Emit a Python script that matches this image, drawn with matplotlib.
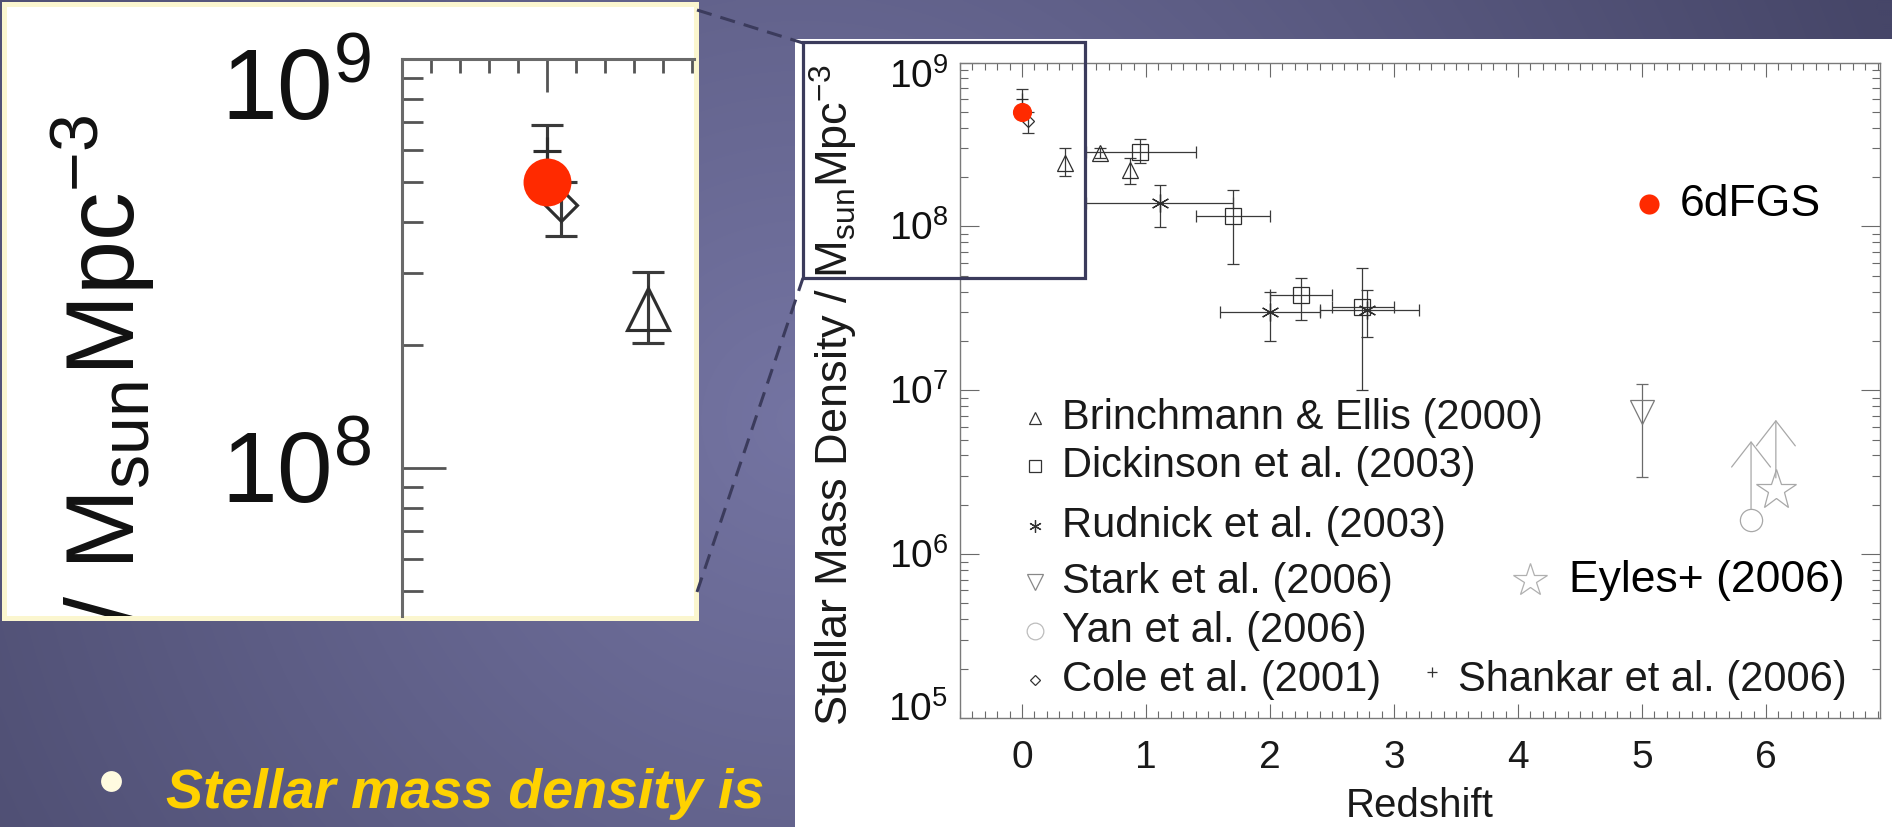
import numpy as np
import matplotlib
matplotlib.use("Agg")
import matplotlib.pyplot as plt
from matplotlib.patches import Rectangle
from matplotlib.lines import Line2D
from matplotlib.ticker import LogLocator, MultipleLocator, NullFormatter
from matplotlib.transforms import Bbox, TransformedBbox, ScaledTranslation, blended_transform_factory
from matplotlib import font_manager

plt.rcParams['font.family'] = ['Liberation Sans', 'DejaVu Sans']
plt.rcParams['mathtext.fontset'] = 'custom'
plt.rcParams['mathtext.rm'] = 'Liberation Sans'
plt.rcParams['mathtext.it'] = 'Liberation Sans:italic'
plt.rcParams['mathtext.bf'] = 'Liberation Sans:bold'

# ---------------- data: stellar mass density vs redshift ----------------
brinch_z = [0.35, 0.63, 0.87]
brinch_rho = [2.45e8, 2.82e8, 2.21e8]
brinch_lo = [2.02e8, 2.63e8, 1.82e8]
brinch_hi = [3.02e8, 3.02e8, 2.60e8]

dick_z = [0.95, 1.70, 2.25, 2.74]
dick_zlo = [0.52, 1.4, 2.0, 2.5]
dick_zhi = [1.4, 2.0, 2.5, 3.0]
dick_rho = [2.86e8, 1.15e8, 3.8e7, 3.24e7]
dick_lo = [2.45e8, 5.9e7, 2.68e7, 1.0e7]
dick_hi = [3.41e8, 1.67e8, 4.86e7, 5.55e7]

rud_z = [1.11, 2.0, 2.78]
rud_zlo = [0.52, 1.6, 2.4]
rud_zhi = [1.7, 2.4, 3.2]
rud_rho = [1.38e8, 3.0e7, 3.1e7]
rud_lo = [9.9e7, 2.0e7, 2.1e7]
rud_hi = [1.8e8, 4.0e7, 4.1e7]

stark_z = [5.0]
stark_rho = [7.4e6]
stark_lo = [2.95e6]
stark_hi = [1.09e7]

yan_z = [5.88]
yan_rho = [1.62e6]
yan_limit_top = [4.9e6]

eyles_z = [6.08]
eyles_rho = [2.45e6]
eyles_limit_top = [6.6e6]

cole_z = [0.05]
cole_rho = [4.4e8]
cole_lo = [3.7e8]
cole_hi = [5.0e8]

shankar_z = [0.0]
shankar_rho = [5.95e8]
shankar_lo = [5.1e8]
shankar_hi = [6.9e8]

sixdf_z = [0.0]
sixdf_rho = [5.0e8]

legend_labels = ["Brinchmann & Ellis (2000)", "Dickinson et al. (2003)",
                 "Rudnick et al. (2003)", "Stark et al. (2006)",
                 "Yan et al. (2006)", "Cole et al. (2001)"]
shankar_label = "Shankar et al. (2006)"
eyles_label = "Eyles+ (2006)"
sixdf_label = "6dFGS"
ylabel_text = r"Stellar Mass Density / M$_{\mathrm{sun}}$Mpc$^{-3}$"
zoom_ylabel_text = r"/ M$_{\mathrm{sun}}$Mpc$^{-3}$"
xlabel_text = "Redshift"
bullet_text = "Stellar mass density is"

main_decades = [5, 6, 7, 8, 9]
zoom_decades = [8, 9]

# ---------------- figure ----------------
W, H = 1892, 827
fig = plt.figure(figsize=(W / 100, H / 100), dpi=100)


def fx(px):
    return px / W


def fy(py):
    return 1 - py / H


# slide background: soft radial purple gradient
bg = fig.add_axes([0, 0, 1, 1], zorder=-10)
yy, xx = np.mgrid[0:H:2, 0:W:2]
dist = np.hypot(xx - 800, yy - 420)
f = np.clip(1 - dist / 1150, 0, 1)[..., None]
light = np.array([0x74, 0x74, 0xa2]) / 255
dark = np.array([0x46, 0x46, 0x68]) / 255
bg.imshow(dark + (light - dark) * f, extent=[0, W, H, 0], aspect='auto',
          interpolation='bilinear')
bg.set_xlim(0, W)
bg.set_ylim(H, 0)
bg.axis('off')

# white panels
fig.add_artist(Rectangle((fx(795), fy(827)), fx(1097), 788 / H, transform=fig.transFigure,
                         facecolor='white', edgecolor='none', zorder=1))
fig.add_artist(Rectangle((fx(3.5), fy(617.5)), fx(692), 614 / H, transform=fig.transFigure,
                         facecolor='white', edgecolor='#fbf6cf', lw=3.6, zorder=1))

DATA_EDGE = '#2e2e2e'
ERR_COL = '#3a3a3a'


def yerr(v, lo, hi):
    return [np.subtract(v, lo), np.subtract(hi, v)]


def draw_points(ax, s):
    lw = 0.9 * s
    cap = 4.5 * s
    common = dict(linestyle='none', elinewidth=lw, capsize=cap, capthick=lw)
    ax.errorbar(brinch_z, brinch_rho, yerr=yerr(brinch_rho, brinch_lo, brinch_hi),
                marker='^', ms=12 * s, mfc='none', mec=DATA_EDGE, mew=lw,
                ecolor=ERR_COL, **common)
    ax.errorbar(dick_z, dick_rho, yerr=yerr(dick_rho, dick_lo, dick_hi),
                xerr=yerr(dick_z, dick_zlo, dick_zhi),
                marker='s', ms=11 * s, mfc='none', mec=DATA_EDGE, mew=lw,
                ecolor=ERR_COL, **common)
    ax.errorbar(rud_z, rud_rho, yerr=yerr(rud_rho, rud_lo, rud_hi),
                xerr=yerr(rud_z, rud_zlo, rud_zhi),
                marker=(6, 2, 0), ms=13 * s, mec=DATA_EDGE, mew=lw,
                ecolor=ERR_COL, **common)
    ax.errorbar(stark_z, stark_rho, yerr=yerr(stark_rho, stark_lo, stark_hi),
                marker='v', ms=17 * s, mfc='none', mec='#7a7a7a', mew=lw,
                ecolor='#6a6a6a', **common)
    ax.errorbar(cole_z, cole_rho, yerr=yerr(cole_rho, cole_lo, cole_hi),
                marker='D', ms=6.5 * s, mfc='none', mec=DATA_EDGE, mew=lw,
                ecolor=ERR_COL, **common)
    ax.errorbar(shankar_z, shankar_rho, yerr=yerr(shankar_rho, shankar_lo, shankar_hi),
                marker='+', ms=8 * s, mec=DATA_EDGE, mew=lw,
                ecolor=ERR_COL, **common)
    # lower limits drawn as upward arrows
    for z, v, top, mk, ms, shrink in ((yan_z, yan_rho, yan_limit_top, 'o', 16, 8),
                                      (eyles_z, eyles_rho, eyles_limit_top, '*', 30, 9)):
        ax.plot(z, v, linestyle='none', marker=mk, ms=ms * s, mfc='none',
                mec='#a8a8a8', mew=lw)
        for zi, vi, ti in zip(z, v, top):
            ax.annotate('', xy=(zi, ti), xytext=(zi, vi),
                        arrowprops=dict(arrowstyle='->,head_length=0.9,head_width=0.7',
                                        color='#a8a8a8', lw=lw, shrinkA=shrink * s,
                                        shrinkB=0, mutation_scale=20 * s))
    ax.plot(sixdf_z, sixdf_rho, linestyle='none', marker='o', ms=13.8 * s,
            mfc='#ff2a00', mec='none', zorder=10)


def decade_labels(ax, decades, size, gap_px, end_shift_px):
    """Decade labels left of the y axis; labels at the ends are nudged inward."""
    lo, hi = ax.get_ylim()
    fontpx = size * 100 / 72
    base = blended_transform_factory(ax.transAxes, ax.transData)
    for d in decades:
        v = 10.0 ** d
        dy = -0.358 * fontpx
        if np.isclose(v, hi):
            dy -= end_shift_px
        elif np.isclose(v, lo):
            dy += end_shift_px
        tr = base + ScaledTranslation(-gap_px / 100, dy / 100, fig.dpi_scale_trans)
        ax.text(0, v, r'$\mathdefault{10^{%d}}$' % d, transform=tr, ha='right',
                va='baseline', fontsize=size, color='#111', clip_on=False)


# ---------------- main chart ----------------
ax = fig.add_axes([fx(960), fy(718), fx(920), 655.5 / H], zorder=3)
ax.set_facecolor('white')
ax.set_yscale('log')
ax.set_xlim(-0.5, 6.92)
ax.set_ylim(1e5, 1e9)
draw_points(ax, 1.0)

for sp in ax.spines.values():
    sp.set_color('#7a7a7a')
    sp.set_linewidth(1.0)
ax.xaxis.set_major_locator(MultipleLocator(1))
ax.xaxis.set_minor_locator(MultipleLocator(0.1))
ax.yaxis.set_major_locator(LogLocator(base=10, numticks=10))
ax.yaxis.set_minor_locator(LogLocator(base=10, subs=np.arange(2, 10), numticks=40))
ax.yaxis.set_minor_formatter(NullFormatter())
ax.tick_params(which='both', direction='in', top=True, right=True,
               color='#6a6a6a', width=0.8, labelsize=28, labelcolor='#1a1a1a')
ax.tick_params(axis='y', labelleft=False)
ax.tick_params(axis='x', which='major', length=10, pad=16)
ax.tick_params(axis='x', which='minor', length=5)
ax.tick_params(axis='y', which='major', length=14)
ax.tick_params(axis='y', which='minor', length=6)
decade_labels(ax, main_decades, 28, 12, 11)

ax.set_xlabel(xlabel_text, fontsize=29, color='#1a1a1a', va='center')
ax.xaxis.set_label_coords(0.5, -0.134)
ax.set_ylabel(ylabel_text, fontsize=32.5, color='#1a1a1a', va='center')
ax.yaxis.set_label_coords(-0.137, 0.4928)

# legend rows
row_y = [0.458, 0.385, 0.293, 0.208, 0.133, 0.058]
row_markers = [dict(marker='^', ms=9, mfc='none', mec='#333'),
               dict(marker='s', ms=8.5, mfc='none', mec='#333'),
               dict(marker=(6, 2, 0), ms=9, mec='#333'),
               dict(marker='v', ms=12, mfc='none', mec='#888'),
               dict(marker='o', ms=12, mfc='none', mec='#bdbdbd'),
               dict(marker='D', ms=5.5, mfc='none', mec='#333')]
for yv, lab, mk in zip(row_y, legend_labels, row_markers):
    ax.plot([0.0815], [yv], transform=ax.transAxes, clip_on=False,
            linestyle='none', mew=0.9, **mk)
    ax.text(0.1109, yv, lab, transform=ax.transAxes, fontsize=30,
            ha='left', va='center', color='#1a1a1a')
ax.plot([0.513], [row_y[-1] + 0.012], transform=ax.transAxes, clip_on=False,
        linestyle='none', marker='+', ms=7, mec='#333', mew=0.9)
ax.text(0.541, row_y[-1], shankar_label, transform=ax.transAxes, fontsize=30,
        ha='left', va='center', color='#1a1a1a')

# labels added on top of the figure
ax.plot([0.6196], [0.2105], transform=ax.transAxes, clip_on=False, linestyle='none',
        marker='*', ms=25, mfc='none', mec='#b0b0b0', mew=0.9)
ax.text(0.662, 0.2105, eyles_label, transform=ax.transAxes, fontsize=32,
        ha='left', va='center', color='black')
ax.plot([0.749], [0.784], transform=ax.transAxes, clip_on=False, linestyle='none',
        marker='o', ms=14.5, mfc='#ff2a00', mec='none')
ax.text(0.7826, 0.784, sixdf_label, transform=ax.transAxes, fontsize=32,
        ha='left', va='center', color='black')

# zoom box on the main chart
fig.add_artist(Rectangle((fx(803), fy(278)), fx(282), 236 / H, transform=fig.transFigure,
                         fill=False, edgecolor='#3b3b5c', lw=2.3, zorder=6))

# ---------------- enlarged view ----------------
axz = fig.add_axes([fx(402), fy(616), fx(292), 557 / H], zorder=4)
axz.set_facecolor('none')
axz.set_yscale('log')
axz.set_xlim(-0.5, 0.507)
axz.set_ylim(10 ** 7.638, 1e9)
draw_points(axz, 2.5)
axz.spines['right'].set_visible(False)
axz.spines['bottom'].set_visible(False)
for side in ('top', 'left'):
    axz.spines[side].set_color('#6a6a6a')
    axz.spines[side].set_linewidth(2.2)
axz.xaxis.set_major_locator(MultipleLocator(1))
axz.xaxis.set_minor_locator(MultipleLocator(0.1))
axz.yaxis.set_major_locator(LogLocator(base=10, numticks=10))
axz.yaxis.set_minor_locator(LogLocator(base=10, subs=np.arange(2, 10), numticks=40))
axz.yaxis.set_minor_formatter(NullFormatter())
axz.tick_params(which='both', direction='in', top=True, bottom=False, right=False,
                labelbottom=False, labeltop=False, labelleft=False,
                color='#555', width=2.0)
axz.tick_params(axis='x', which='major', length=24)
axz.tick_params(axis='x', which='minor', length=10)
axz.tick_params(axis='y', which='major', length=32)
axz.tick_params(axis='y', which='minor', length=15)
decade_labels(axz, zoom_decades, 72, 31, 26)

zlab = fig.text(fx(134), fy(115), zoom_ylabel_text, rotation=90, rotation_mode='anchor',
                ha='right', va='baseline', fontsize=70, color='#111', zorder=5)
zlab.set_clip_on(True)
zlab.set_clip_box(TransformedBbox(Bbox([[fx(5), fy(616)], [fx(694), fy(5)]]),
                                  fig.transFigure))

# dashed connectors between the zoom box and the enlarged view
dash_kw = dict(transform=fig.transFigure, color='#3b3b5c', lw=2.2,
               linestyle=(0, (5, 3)), zorder=7)
fig.add_artist(Line2D([fx(697), fx(803)], [fy(10), fy(43)], **dash_kw))
fig.add_artist(Line2D([fx(697), fx(803)], [fy(592), fy(278)], **dash_kw))

# ---------------- slide text ----------------
try:
    font_manager.findfont(font_manager.FontProperties(family='Liberation Sans Narrow',
                                                      weight='bold', style='italic'),
                          fallback_to_default=False)
    bullet_family, bullet_size = ['Liberation Sans Narrow', 'Liberation Sans'], 47
except Exception:
    bullet_family, bullet_size = ['Liberation Sans'], 40
fig.add_artist(Line2D([fx(111)], [fy(781)], transform=fig.transFigure, linestyle='none',
                      marker='o', ms=15, mfc='#fffbe0', mec='none', zorder=8))
fig.text(fx(166), fy(808), bullet_text, fontsize=bullet_size, family=bullet_family,
         fontweight='bold', fontstyle='italic', color='#ffd200',
         ha='left', va='baseline', zorder=8)

fig.savefig('out.png', dpi=100)
